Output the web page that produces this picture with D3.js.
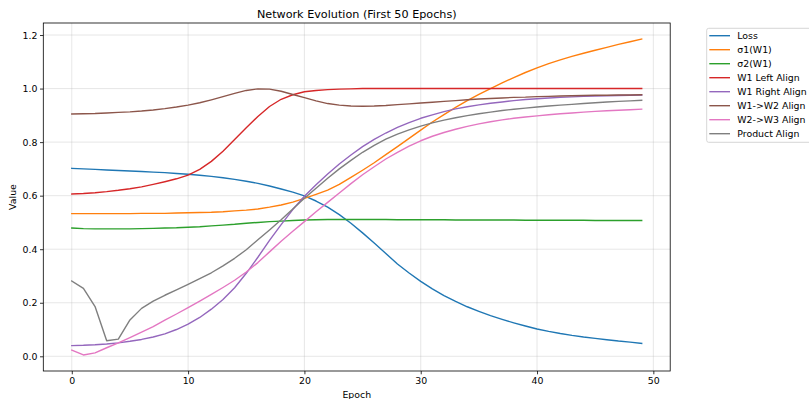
<!DOCTYPE html>
<html>
<head>
<meta charset="utf-8">
<script src="https://cdn.jsdelivr.net/npm/d3@7"></script>
<style>
  body { margin: 0; background: #fff; }
  svg { display: block; font-family: "DejaVu Sans", sans-serif; }
</style>
</head>
<body>
<div id="chart"></div>
<script>
// epochs 0..49
const epochs = d3.range(0, 50);

const loss = [0.702, 0.700, 0.698, 0.696, 0.694, 0.692, 0.690, 0.688, 0.686, 0.683,
  0.680, 0.676, 0.672, 0.667, 0.661, 0.654, 0.646, 0.636, 0.625, 0.613,
  0.599, 0.580, 0.557, 0.529, 0.497, 0.461, 0.423, 0.384, 0.345, 0.311,
  0.280, 0.252, 0.227, 0.205, 0.185, 0.168, 0.152, 0.138, 0.125, 0.113,
  0.102, 0.093, 0.085, 0.078, 0.072, 0.067, 0.062, 0.057, 0.053, 0.048];

const sigma1 = [0.533, 0.533, 0.533, 0.533, 0.533, 0.533, 0.534, 0.534, 0.534, 0.535,
  0.536, 0.537, 0.538, 0.540, 0.543, 0.546, 0.550, 0.557, 0.565, 0.576,
  0.590, 0.605, 0.621, 0.642, 0.668, 0.695, 0.723, 0.753, 0.783, 0.814,
  0.845, 0.875, 0.903, 0.930, 0.955, 0.978, 1.000, 1.021, 1.041, 1.060,
  1.077, 1.093, 1.107, 1.120, 1.132, 1.143, 1.154, 1.165, 1.175, 1.185];

const sigma2 = [0.479, 0.477, 0.476, 0.476, 0.476, 0.476, 0.477, 0.478, 0.479, 0.480,
  0.482, 0.484, 0.487, 0.490, 0.493, 0.497, 0.500, 0.503, 0.505, 0.507,
  0.509, 0.510, 0.511, 0.511, 0.511, 0.511, 0.511, 0.511, 0.510, 0.510,
  0.510, 0.510, 0.510, 0.509, 0.509, 0.509, 0.509, 0.509, 0.509, 0.508,
  0.508, 0.508, 0.508, 0.508, 0.508, 0.507, 0.507, 0.507, 0.507, 0.507];

const leftAlign = [0.606, 0.608, 0.611, 0.615, 0.620, 0.626, 0.633, 0.642, 0.652, 0.663,
  0.677, 0.698, 0.728, 0.766, 0.810, 0.854, 0.896, 0.933, 0.960, 0.977,
  0.988, 0.993, 0.996, 0.998, 0.999, 1.000, 1.000, 1.000, 1.000, 1.000,
  1.000, 1.000, 1.000, 1.000, 1.000, 1.000, 1.000, 1.000, 1.000, 1.000,
  1.000, 1.000, 1.000, 1.000, 1.000, 1.000, 1.000, 1.000, 1.000, 1.000];

const rightAlign = [0.040, 0.041, 0.043, 0.046, 0.050, 0.056, 0.063, 0.072, 0.084, 0.100,
  0.120, 0.145, 0.176, 0.212, 0.256, 0.310, 0.370, 0.433, 0.492, 0.548,
  0.598, 0.641, 0.681, 0.718, 0.752, 0.783, 0.810, 0.834, 0.855, 0.873,
  0.889, 0.902, 0.914, 0.924, 0.932, 0.939, 0.945, 0.950, 0.955, 0.959,
  0.962, 0.965, 0.967, 0.969, 0.971, 0.972, 0.973, 0.974, 0.975, 0.976];

const w1w2Align = [0.905, 0.906, 0.907, 0.909, 0.911, 0.913, 0.916, 0.920, 0.925, 0.931,
  0.938, 0.947, 0.958, 0.970, 0.982, 0.993, 0.999, 0.998, 0.990, 0.978,
  0.966, 0.954, 0.944, 0.938, 0.935, 0.934, 0.935, 0.937, 0.940, 0.943,
  0.946, 0.949, 0.952, 0.955, 0.958, 0.961, 0.963, 0.965, 0.967, 0.968,
  0.970, 0.971, 0.972, 0.973, 0.974, 0.975, 0.975, 0.976, 0.976, 0.977];

const w2w3Align = [0.023, 0.005, 0.013, 0.032, 0.050, 0.070, 0.090, 0.111, 0.135, 0.158,
  0.182, 0.206, 0.231, 0.257, 0.284, 0.315, 0.350, 0.390, 0.430, 0.467,
  0.503, 0.540, 0.575, 0.610, 0.645, 0.678, 0.708, 0.737, 0.762, 0.785,
  0.805, 0.822, 0.836, 0.848, 0.859, 0.868, 0.876, 0.883, 0.889, 0.894,
  0.898, 0.902, 0.906, 0.909, 0.912, 0.915, 0.917, 0.919, 0.921, 0.923];

const productAlign = [0.281, 0.254, 0.186, 0.058, 0.064, 0.136, 0.179, 0.206, 0.228, 0.248,
  0.269, 0.290, 0.312, 0.338, 0.366, 0.398, 0.435, 0.472, 0.510, 0.550,
  0.590, 0.628, 0.665, 0.700, 0.732, 0.762, 0.788, 0.811, 0.830, 0.846,
  0.860, 0.872, 0.882, 0.891, 0.899, 0.906, 0.912, 0.918, 0.923, 0.927,
  0.931, 0.935, 0.938, 0.941, 0.944, 0.947, 0.950, 0.952, 0.954, 0.956];

const seriesNames = ["Loss", "σ1(W1)", "σ2(W1)", "W1 Left Align", "W1 Right Align",
  "W1->W2 Align", "W2->W3 Align", "Product Align"];
const seriesValues = [loss, sigma1, sigma2, leftAlign, rightAlign, w1w2Align, w2w3Align, productAlign];
const colors = ["#1f77b4", "#ff7f0e", "#2ca02c", "#d62728", "#9467bd", "#8c564b", "#e377c2", "#7f7f7f"];

const xTicks = [0, 10, 20, 30, 40, 50];
const yTicks = [0.0, 0.2, 0.4, 0.6, 0.8, 1.0, 1.2];

const width = 809, height = 399;
const plot = { left: 43.3, right: 670.2, top: 23, bottom: 371 };

const svg = d3.select("#chart").append("svg")
  .attr("width", width)
  .attr("height", height);

const x = d3.scaleLinear().domain([-2.45, 51.45]).range([plot.left, plot.right]);
const y = d3.scaleLinear().domain([-0.0549, 1.2449]).range([plot.bottom, plot.top]);

// grid
svg.append("g").selectAll("line").data(xTicks).enter().append("line")
  .attr("x1", d => x(d)).attr("x2", d => x(d))
  .attr("y1", plot.top).attr("y2", plot.bottom)
  .attr("stroke", "#b0b0b0").attr("stroke-opacity", 0.3).attr("stroke-width", 1);
svg.append("g").selectAll("line").data(yTicks).enter().append("line")
  .attr("x1", plot.left).attr("x2", plot.right)
  .attr("y1", d => y(d)).attr("y2", d => y(d))
  .attr("stroke", "#b0b0b0").attr("stroke-opacity", 0.3).attr("stroke-width", 1);

// axes
const xAxis = svg.append("g")
  .attr("transform", "translate(0," + plot.bottom + ")")
  .call(d3.axisBottom(x).tickValues(xTicks).tickFormat(d3.format("d")).tickSize(3.3).tickPadding(2.6));
const yAxis = svg.append("g")
  .attr("transform", "translate(" + plot.left + ",0)")
  .call(d3.axisLeft(y).tickValues(yTicks).tickFormat(d3.format(".1f")).tickSize(3.3).tickPadding(2.6));
[xAxis, yAxis].forEach(a => {
  a.select(".domain").remove();
  a.selectAll("text").attr("font-size", 9.4).attr("fill", "#000")
    .attr("font-family", "DejaVu Sans");
  a.selectAll("line").attr("stroke", "#000").attr("stroke-width", 0.8);
});

// lines
const line = d3.line()
  .x((d, i) => x(epochs[i]))
  .y(d => y(d));

seriesValues.forEach((vals, k) => {
  svg.append("path")
    .datum(vals)
    .attr("d", line)
    .attr("fill", "none")
    .attr("stroke", colors[k])
    .attr("stroke-width", 1.4)
    .attr("stroke-linejoin", "round")
    .attr("stroke-linecap", "square");
});

// spines
svg.append("rect")
  .attr("x", plot.left).attr("y", plot.top)
  .attr("width", plot.right - plot.left).attr("height", plot.bottom - plot.top)
  .attr("fill", "none").attr("stroke", "#000").attr("stroke-width", 0.8);

// labels
svg.append("text")
  .attr("x", (plot.left + plot.right) / 2).attr("y", 18)
  .attr("text-anchor", "middle").attr("font-size", 11.2)
  .text("Network Evolution (First 50 Epochs)");
svg.append("text")
  .attr("x", (plot.left + plot.right) / 2).attr("y", 398)
  .attr("text-anchor", "middle").attr("font-size", 9.4)
  .text("Epoch");
svg.append("text")
  .attr("transform", "translate(16," + ((plot.top + plot.bottom) / 2) + ") rotate(-90)")
  .attr("text-anchor", "middle").attr("font-size", 9.4)
  .text("Value");

// legend
const legend = svg.append("g");
legend.append("rect")
  .attr("x", 706.7).attr("y", 28.3)
  .attr("width", 110).attr("height", 114)
  .attr("rx", 2).attr("fill", "#fff").attr("fill-opacity", 0.8)
  .attr("stroke", "#cccccc").attr("stroke-width", 0.8);
seriesNames.forEach((name, i) => {
  const ly = 35.7 + i * 14;
  legend.append("line")
    .attr("x1", 709.3).attr("x2", 730).attr("y1", ly).attr("y2", ly)
    .attr("stroke", colors[i]).attr("stroke-width", 1.4);
  legend.append("text")
    .attr("x", 737.3).attr("y", ly).attr("dy", "0.35em")
    .attr("font-size", 9.4)
    .text(name);
});
</script>
</body>
</html>
